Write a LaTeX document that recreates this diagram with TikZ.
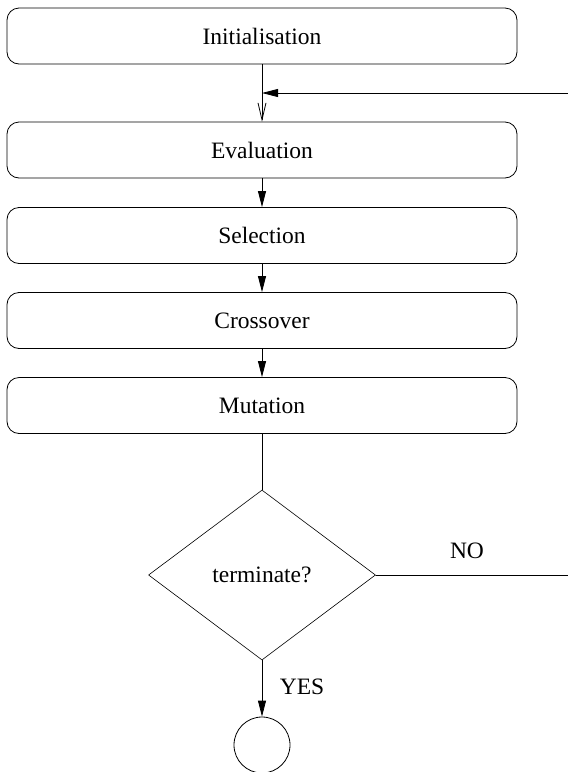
\documentclass[tikz,border=0pt]{standalone}
\usepackage{fontspec}
\setmainfont{Liberation Serif}
\usetikzlibrary{arrows.meta,shapes.geometric}

\begin{document}
\begin{tikzpicture}[x=1pt,y=-1pt,line cap=round,line join=round,
                    font=\fontsize{23.5}{28}\selectfont,
                    stagebox/.style={draw,rounded corners=12pt,line width=0.8pt,
                      minimum width=510pt,minimum height=56pt,inner sep=0pt},
                    flow/.style={line width=0.8pt,-{Triangle[length=16pt,width=8pt]}},
                    openflow/.style={line width=0.8pt,-{Straight Barb[length=17pt,width=8pt]}}]
  \useasboundingbox (0,0) rectangle (568,772);

  % The stages of the loop, stacked down the middle.
  \node[stagebox] (init) at (262,36) {Initialisation};
  \node[stagebox] (eval) at (262,150) {Evaluation};
  \node[stagebox] (sel) at (262,235.5) {Selection};
  \node[stagebox] (cross) at (262,320.5) {Crossover};
  \node[stagebox] (mut) at (262,405.5) {Mutation};

  % Decision and the end point.
  \node[draw,diamond,line width=0.6pt,aspect=1.335,inner sep=0pt,
        minimum width=227pt,minimum height=170pt] (test) at (262,575)
    {terminate?};
  \node[draw,circle,line width=0.8pt,minimum size=56pt,inner sep=0pt]
    (stop) at (262,745) {};

  \node (no) at (467,551) {NO};
  \node (yes) at (302,687) {YES};

  % Connectors.
  \coordinate (join) at (262,93);
  \coordinate (farright) at (575,575);
  \draw[openflow] (init) -- (eval);
  \draw[flow] (eval) -- (sel);
  \draw[flow] (sel) -- (cross);
  \draw[flow] (cross) -- (mut);
  \draw[line width=0.8pt] (mut) -- (test);
  \draw[flow] (test) -- (stop);
  \draw[flow] (test.east) -- (farright) |- (join);
\end{tikzpicture}
\end{document}
